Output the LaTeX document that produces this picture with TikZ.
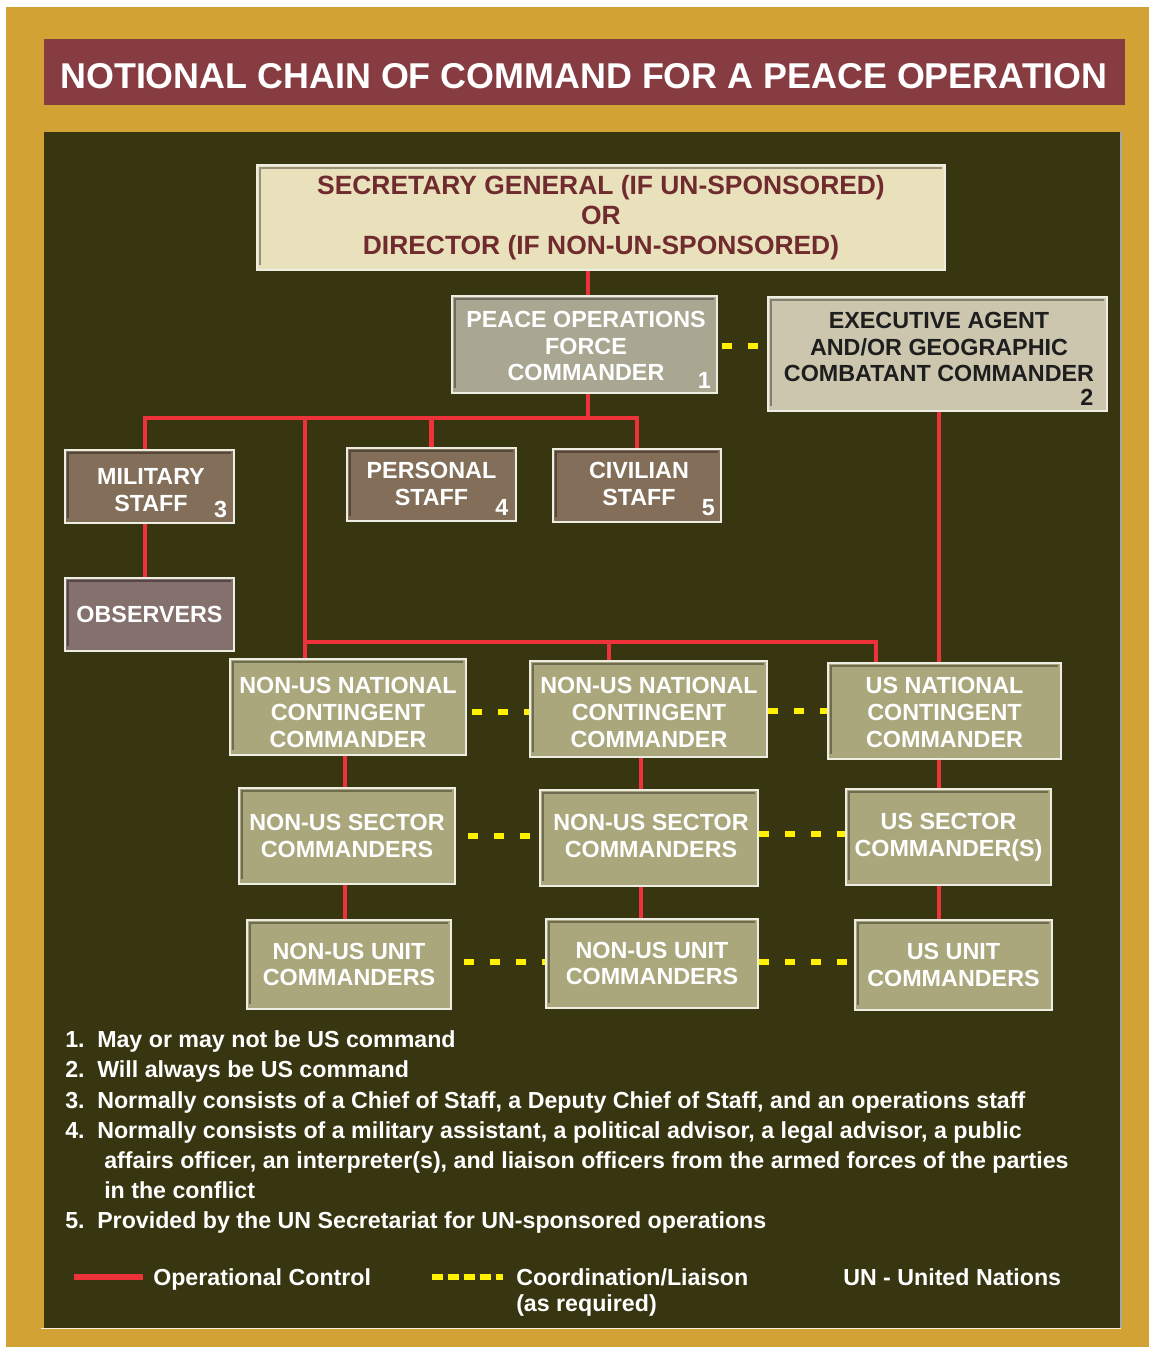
\documentclass[tikz,border=0pt]{standalone}
\usepackage{fontspec}
\setmainfont{Liberation Sans}
\definecolor{gold}{HTML}{D2A234}
\definecolor{titlered}{HTML}{873C41}
\definecolor{panel}{HTML}{383611}
\definecolor{sgfill}{HTML}{E9E0BC}
\definecolor{sgtext}{HTML}{6F2B2E}
\definecolor{pfcfill}{HTML}{A9A792}
\definecolor{execfill}{HTML}{CCC6AF}
\definecolor{exectext}{HTML}{1E1E1E}
\definecolor{stafffill}{HTML}{836F59}
\definecolor{obsfill}{HTML}{84706C}
\definecolor{cmdfill}{HTML}{ABA77C}
\definecolor{opred}{HTML}{EE3239}
\definecolor{coordyellow}{HTML}{FFF100}
\definecolor{rim}{HTML}{EEEDE2}
\tikzset{
  box/.style={draw=rim, line width=0.9pt, inner sep=0pt, align=center,
    text=white, font=\fontsize{17.5}{20}\selectfont\bfseries,
    path picture={\draw[black, opacity=0.35, line width=1.6pt]
      ([xshift=2pt,yshift=4pt]path picture bounding box.south west) --
      ([xshift=2pt,yshift=-2pt]path picture bounding box.north west) --
      ([xshift=-2pt,yshift=-2pt]path picture bounding box.north east);}},
  boxtext/.style={inner sep=0pt, align=center, text=white, font=\fontsize{17.5}{20}\selectfont\bfseries},
  num/.style={inner sep=0pt, text=white, font=\fontsize{17.5}{20}\selectfont\bfseries},
  op/.style={draw=opred, line width=3.4pt},
  coordline/.style={draw=coordyellow, line width=3.8pt, dash pattern=on 7.5pt off 12pt},
  note/.style={inner sep=0pt, anchor=base west, text=white, font=\fontsize{17.4}{20}\selectfont\bfseries},
}
\begin{document}
\begin{tikzpicture}[x=0.75pt,y=-0.75pt]
% background and frame
\fill[white] (0,0) rectangle (1149,1347);
\useasboundingbox (0,0) rectangle (1149,1347);
\fill[gold] (6,7) rectangle (1149,1347);
\fill[titlered] (44,39) rectangle (1125,105);
\fill[panel] (44,132) rectangle (1121,1328);
\draw[line width=1pt, color=gray!70] (1121,132) -- (1121,1328);
\draw[line width=1.2pt, color=white!85!gold] (41,1328.5) -- (1121,1328.5);
\node[anchor=base, inner sep=0pt, text=white, font=\fontsize{26.9}{30}\selectfont\bfseries] (title) at (584,88)
  {NOTIONAL CHAIN OF COMMAND FOR A PEACE OPERATION};

% top boxes
\node[box, fill=sgfill, text=sgtext, font=\fontsize{19.8}{22.5}\selectfont\bfseries,
  minimum width=516pt, minimum height=78.75pt] (sg) at (601,217.5)
  {SECRETARY GENERAL (IF UN-SPONSORED)\\OR\\DIRECTOR (IF NON-UN-SPONSORED)};
\node[box, fill=pfcfill, minimum width=198.75pt, minimum height=72.75pt] (pfc) at (584.5,344.5) {};
\node[boxtext] (pfctxt) at (586,346) {PEACE OPERATIONS\\FORCE\\COMMANDER};
\node[num] (n1) at ([xshift=-10pt,yshift=10pt]pfc.south east) {1};
\node[box, fill=execfill, minimum width=254.25pt, minimum height=85.5pt] (exec) at (937.5,354) {};
\node[boxtext, text=exectext] (exectxt) at (939,347)
  {EXECUTIVE AGENT\\AND/OR GEOGRAPHIC\\COMBATANT COMMANDER};
\node[num, text=exectext] (n2) at ([xshift=-15.5pt,yshift=10.5pt]exec.south east) {2};

% staff boxes
\node[box, fill=stafffill, minimum width=126.75pt, minimum height=54.75pt] (mil) at (149.5,486.5) {};
\node[boxtext] (miltxt) at (151,490) {MILITARY\\STAFF};
\node[num] (n3) at ([xshift=-10.5pt,yshift=10.5pt]mil.south east) {3};
\node[box, fill=stafffill, minimum width=126.75pt, minimum height=54.75pt] (pers) at (431.5,484.5) {};
\node[boxtext] (perstxt) at (431.5,484) {PERSONAL\\STAFF};
\node[num] (n4) at ([xshift=-11pt,yshift=10.5pt]pers.south east) {4};
\node[box, fill=stafffill, minimum width=126pt, minimum height=54.75pt] (civ) at (637,485.5) {};
\node[boxtext] (civtxt) at (639,484) {CIVILIAN\\STAFF};
\node[num] (n5) at ([xshift=-10pt,yshift=11pt]civ.south east) {5};
\node[box, fill=obsfill, minimum width=126.75pt, minimum height=54.75pt] (obs) at (149.5,614.5)
  {OBSERVERS};

% contingent commanders
\node[box, fill=cmdfill, minimum width=177pt, minimum height=72pt] (nat1) at (348,707) {};
\node[boxtext] (nat1txt) at (348,712.5) {NON-US NATIONAL\\CONTINGENT\\COMMANDER};
\node[box, fill=cmdfill, minimum width=177.75pt, minimum height=72pt] (nat2) at (648.5,709) {};
\node[boxtext] (nat2txt) at (649,712.5) {NON-US NATIONAL\\CONTINGENT\\COMMANDER};
\node[box, fill=cmdfill, minimum width=174.75pt, minimum height=72pt] (usnat) at (944.5,711) {};
\node[boxtext] (usnattxt) at (944.5,712.5) {US NATIONAL\\CONTINGENT\\COMMANDER};
\node[box, fill=cmdfill, minimum width=162pt, minimum height=72pt] (sec1) at (347,836)
  {NON-US SECTOR\\COMMANDERS};
\node[box, fill=cmdfill, minimum width=163.5pt, minimum height=72pt] (sec2) at (649,838) {};
\node[boxtext] (sec2txt) at (651,836) {NON-US SECTOR\\COMMANDERS};
\node[box, fill=cmdfill, minimum width=153.75pt, minimum height=72pt] (ussec) at (948.5,837)
  {US SECTOR\\COMMANDER(S)};
\node[box, fill=cmdfill, minimum width=153pt, minimum height=66.75pt] (unit1) at (349,964.5)
  {NON-US UNIT\\COMMANDERS};
\node[box, fill=cmdfill, minimum width=159pt, minimum height=66.75pt] (unit2) at (652,963.5)
  {NON-US UNIT\\COMMANDERS};
\node[box, fill=cmdfill, minimum width=147.75pt, minimum height=67.5pt] (usunit) at (953.5,965)
  {US UNIT\\COMMANDERS};

% operational control lines
\coordinate (bar) at (145,418);
\coordinate (t1) at (305,418);
\coordinate (t2) at (305,642);
\coordinate (t3) at (876,642);
\coordinate (t4) at (609,642);
\coordinate (vx0) at (588,0);
\coordinate (vx1) at (345,0);
\coordinate (vx2) at (641,0);
\coordinate (vx3) at (939,0);
\draw[op] (vx0 |- sg.south) -- (vx0 |- pfc.north);
\draw[op] (vx0 |- pfc.south) -- (vx0 |- bar);
\draw[op] (mil.north -| bar) -- (bar) -- (civ.north |- bar) -- (civ.north);
\draw[op] (pers.north) -- (pers.north |- bar);
\draw[op] (mil.south -| bar) -- (obs.north -| bar);
\draw[op] (t1) -- (t2) -- (t3) -- (t3 |- usnat.north);
\draw[op] (t2) -- (t2 |- nat1.north);
\draw[op] (t4) -- (t4 |- nat2.north);
\draw[op] (vx3 |- exec.south) -- (vx3 |- usnat.north);
\draw[op] (vx1 |- nat1.south) -- (vx1 |- sec1.north);
\draw[op] (vx1 |- sec1.south) -- (vx1 |- unit1.north);
\draw[op] (vx2 |- nat2.south) -- (vx2 |- sec2.north);
\draw[op] (vx2 |- sec2.south) -- (vx2 |- unit2.north);
\draw[op] (vx3 |- usnat.south) -- (vx3 |- ussec.north);
\draw[op] (vx3 |- ussec.south) -- (vx3 |- usunit.north);

% coordination lines
\draw[coordline, dash phase=-3pt] (pfc.east |- 0,346) -- (exec.west |- 0,346);
\draw[coordline, dash phase=-4pt] (nat1.east |- 0,712) -- (nat2.west |- 0,712);
\draw[coordline] (nat2.east |- 0,711) -- (usnat.west |- 0,711);
\draw[coordline, dash phase=-9pt] (sec1.east |- 0,836) -- (sec2.west |- 0,836);
\draw[coordline] (sec2.east |- 0,834) -- (ussec.west |- 0,834);
\draw[coordline, dash phase=-9pt] (unit1.east |- 0,962) -- (unit2.west |- 0,962);
\draw[coordline] (unit2.east |- 0,962) -- (usunit.west |- 0,962);

% notes
\node[note] (note1) at (65,1047) {\makebox[24pt][l]{1.}May or may not be US command};
\node[note] (note2) at (65,1077) {\makebox[24pt][l]{2.}Will always be US command};
\node[note] (note3) at (65,1108) {\makebox[24pt][l]{3.}Normally consists of a Chief of Staff, a Deputy Chief of Staff, and an operations staff};
\node[note] (note4a) at (65,1138) {\makebox[24pt][l]{4.}Normally consists of a military assistant, a political advisor, a legal advisor, a public};
\node[note] (note4b) at (104,1168) {affairs officer, an interpreter(s), and liaison officers from the armed forces of the parties};
\node[note] (note4c) at (104,1198) {in the conflict};
\node[note] (note5) at (65,1228) {\makebox[24pt][l]{5.}Provided by the UN Secretariat for UN-sponsored operations};

% legend
\coordinate (lr1) at (74,1277);
\coordinate (lr2) at (143,1277);
\coordinate (ly1) at (432,1277);
\coordinate (ly2) at (503,1277);
\draw[draw=opred, line width=4.5pt] (lr1) -- (lr2);
\draw[draw=coordyellow, line width=4.5pt, dash pattern=on 8pt off 4pt] (ly1) -- (ly2);
\node[note] (leg1) at (153,1285) {Operational Control};
\node[note] (leg2) at (516,1285) {Coordination/Liaison};
\node[note] (leg2b) at (516,1311) {(as required)};
\node[note] (leg3) at (843,1285) {UN - United Nations};
\end{tikzpicture}
\end{document}
